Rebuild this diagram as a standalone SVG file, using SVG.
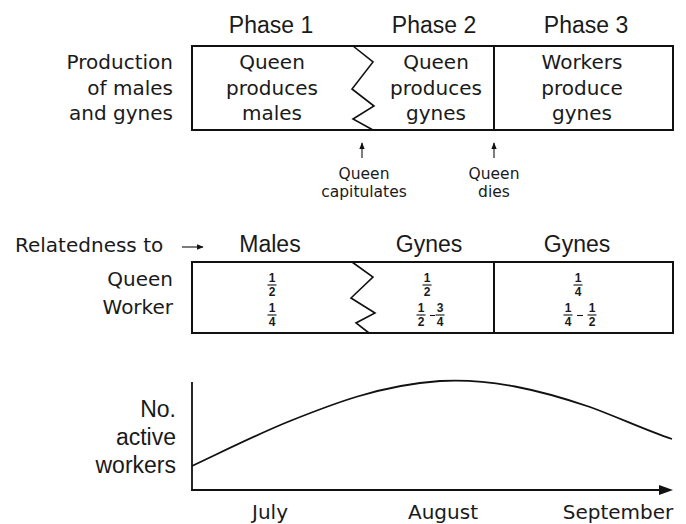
<svg xmlns="http://www.w3.org/2000/svg" width="686" height="524" viewBox="0 0 686 524">
<defs>
<style>
.h{font-family:"Liberation Sans",Arial,sans-serif;font-size:23px;fill:#1a1a1a}
.s{font-family:"DejaVu Sans",sans-serif;font-size:20px;fill:#1a1a1a}
.sm{font-family:"DejaVu Sans",sans-serif;font-size:15.5px;fill:#1a1a1a}
.f{font-family:"Liberation Sans",Arial,sans-serif;font-size:12px;font-weight:bold;fill:#1a1a1a;text-anchor:middle}
.box{fill:none;stroke:#111;stroke-width:2}
.zz{fill:none;stroke:#111;stroke-width:1.6;stroke-linejoin:miter}
.ln{fill:none;stroke:#111;stroke-width:1.8}
.bar{stroke:#111;stroke-width:1.1}
</style>
<marker id="ah" viewBox="0 0 10 10" refX="9" refY="5" markerWidth="6" markerHeight="6" orient="auto">
<path d="M0,1 L10,5 L0,9 Z" fill="#111"/>
</marker>
</defs>
<rect width="686" height="524" fill="#fff"/>

<g id="phase-headers" text-anchor="middle">
<text class="h" x="271" y="33">Phase 1</text>
<text class="h" x="434" y="33">Phase 2</text>
<text class="h" x="586" y="33">Phase 3</text>
</g>

<g id="production-label" text-anchor="end">
<text class="s" x="173" y="69">Production</text>
<text class="s" x="173" y="95">of males</text>
<text class="s" x="173" y="120">and gynes</text>
</g>

<g id="production-box">
<rect class="box" x="192" y="46" width="481" height="84"/>
<line class="box" x1="494" y1="46" x2="494" y2="130"/>
<polyline class="zz" points="353,46 373,62 352,89 374,106 353,119 373,130"/>
</g>

<g id="phase1-text" text-anchor="middle">
<text class="s" x="272" y="69">Queen</text>
<text class="s" x="272" y="95">produces</text>
<text class="s" x="272" y="120">males</text>
</g>
<g id="phase2-text" text-anchor="middle">
<text class="s" x="436" y="69">Queen</text>
<text class="s" x="436" y="95">produces</text>
<text class="s" x="436" y="120">gynes</text>
</g>
<g id="phase3-text" text-anchor="middle">
<text class="s" x="582" y="69">Workers</text>
<text class="s" x="582" y="95">produce</text>
<text class="s" x="582" y="120">gynes</text>
</g>

<g id="queen-capitulates" text-anchor="middle">
<text class="sm" x="364" y="179">Queen</text>
<text class="sm" x="364" y="197">capitulates</text>
</g>
<g id="queen-dies" text-anchor="middle">
<text class="sm" x="494" y="179">Queen</text>
<text class="sm" x="494" y="197">dies</text>
</g>

<g id="connectors">
<line class="bar" x1="362" y1="158" x2="362" y2="143" stroke-width="1.4" marker-end="url(#ah)"/>
<line class="bar" x1="494" y1="158" x2="494" y2="143" stroke-width="1.4" marker-end="url(#ah)"/>
<line class="bar" x1="182" y1="247" x2="203" y2="247" stroke-width="1.4" marker-end="url(#ah)"/>
</g>

<g id="relatedness-header">
<text class="s" x="15" y="252">Relatedness to</text>
<g text-anchor="middle">
<text class="h" x="270" y="252">Males</text>
<text class="h" x="429" y="252">Gynes</text>
<text class="h" x="577" y="252">Gynes</text>
</g>
</g>

<g id="relatedness-labels" text-anchor="end">
<text class="s" x="173" y="286">Queen</text>
<text class="s" x="173" y="314">Worker</text>
</g>

<g id="relatedness-box">
<rect class="box" x="192" y="262" width="481" height="71"/>
<line class="box" x1="494" y1="262" x2="494" y2="333"/>
<polyline class="zz" points="352,262 373,277 351,298 375,313 356,323 369,333"/>
</g>

<g id="fractions">
<!-- phase 1 -->
<text class="f" x="272" y="282">1</text><line class="bar" x1="267.5" y1="285" x2="276.5" y2="285"/><text class="f" x="272" y="296">2</text>
<text class="f" x="272" y="312">1</text><line class="bar" x1="267.5" y1="315" x2="276.5" y2="315"/><text class="f" x="272" y="326">4</text>
<!-- phase 2 -->
<text class="f" x="427" y="282">1</text><line class="bar" x1="422.5" y1="285" x2="431.5" y2="285"/><text class="f" x="427" y="296">2</text>
<text class="f" x="421" y="312">1</text><line class="bar" x1="416.5" y1="315" x2="425.5" y2="315"/><text class="f" x="421" y="326">2</text>
<line class="bar" x1="430" y1="315.5" x2="435" y2="315.5" stroke-width="1.4"/>
<text class="f" x="440" y="312">3</text><line class="bar" x1="435.5" y1="315" x2="444.5" y2="315"/><text class="f" x="440" y="326">4</text>
<!-- phase 3 -->
<text class="f" x="578" y="282">1</text><line class="bar" x1="573.5" y1="285" x2="582.5" y2="285"/><text class="f" x="578" y="296">4</text>
<text class="f" x="568" y="312">1</text><line class="bar" x1="563.5" y1="315" x2="572.5" y2="315"/><text class="f" x="568" y="326">4</text>
<line class="bar" x1="577" y1="315.5" x2="583" y2="315.5" stroke-width="1.4"/>
<text class="f" x="592" y="312">1</text><line class="bar" x1="587.5" y1="315" x2="596.5" y2="315"/><text class="f" x="592" y="326">2</text>
</g>

<g id="workers-label" text-anchor="end">
<text class="h" x="176" y="417">No.</text>
<text class="h" x="176" y="445">active</text>
<text class="h" x="176" y="473">workers</text>
</g>

<g id="chart">
<line class="ln" x1="192" y1="382" x2="192" y2="491"/>
<line class="ln" x1="191" y1="490" x2="662" y2="490"/>
<path d="M673,490 L659,485 L659,495 Z" fill="#111"/>
<path class="ln" d="M192,466 C230,448 260,433 290,421 C330,405 380,385 440,381 C490,378 540,390 590,407 C620,418 645,430 672,439"/>
</g>

<g id="months" text-anchor="middle">
<text class="s" x="270" y="519">July</text>
<text class="s" x="443" y="519">August</text>
<text class="s" x="618" y="519">September</text>
</g>
</svg>
